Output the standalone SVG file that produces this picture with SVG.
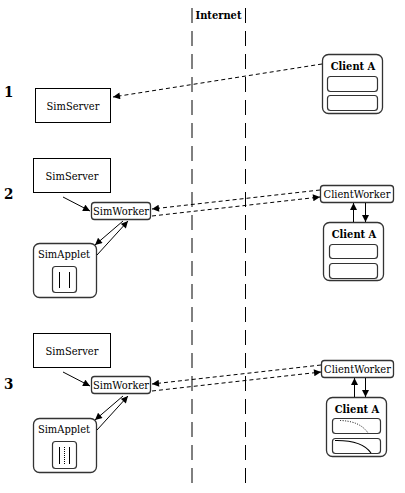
<svg xmlns="http://www.w3.org/2000/svg" width="405" height="493" viewBox="0 0 405 493">
<defs>
<marker id="ah" viewBox="0 0 10 10" refX="10" refY="5" markerWidth="8" markerHeight="7" markerUnits="userSpaceOnUse" orient="auto">
<path d="M0,0 L10,5 L0,10 z" fill="#000"/>
</marker>
</defs>
<style>
text{font-family:'DejaVu Serif Condensed','DejaVu Serif',serif;font-stretch:condensed;fill:#000}
.lbl{font-size:11px;text-anchor:middle}
.bold{font-weight:bold}
.num{font-size:15px;font-weight:bold}
.sq{fill:#fff;stroke:#000;stroke-width:1}
.rnd{fill:#fff;stroke:#333;stroke-width:1.3}
.inner{fill:#fff;stroke:#333;stroke-width:1.2}
.net{stroke:#000;stroke-width:1;stroke-dasharray:15 8;fill:none}
.c{stroke:#000;stroke-width:1;fill:none;marker-end:url(#ah)}
.d{stroke:#000;stroke-width:1;fill:none;stroke-dasharray:4 3;marker-end:url(#ah)}
</style>
<rect width="405" height="493" fill="#fff"/>

<g id="internet">
<line class="net" x1="192" y1="8" x2="192" y2="485"/>
<line class="net" x1="245.5" y1="8" x2="245.5" y2="485"/>
<text class="lbl bold" x="218.5" y="19">Internet</text>
</g>

<g id="labels">
<text class="num" x="4" y="97">1</text>
<text class="num" x="4" y="199">2</text>
<text class="num" x="4" y="389">3</text>
</g>

<g id="simserver1">
<rect class="sq" x="35.5" y="88.5" width="75" height="34"/>
<text class="lbl" x="73" y="110">SimServer</text>
</g>
<g id="clientA1">
<rect class="rnd" x="322.5" y="54.5" width="60" height="59" rx="6"/>
<text class="lbl bold" x="353" y="70">Client A</text>
<rect class="inner" x="327.5" y="76.5" width="50" height="15" rx="3"/>
<rect class="inner" x="327.5" y="95.5" width="50" height="15" rx="3"/>
</g>

<g id="simserver2">
<rect class="sq" x="33.5" y="158.5" width="77" height="34"/>
<text class="lbl" x="72" y="180">SimServer</text>
</g>
<g id="simworker2">
<rect class="rnd" x="91.5" y="202.5" width="59" height="17" rx="3"/>
<text class="lbl" x="121" y="215">SimWorker</text>
</g>
<g id="simapplet2">
<rect class="rnd" x="33.5" y="243.5" width="63" height="54" rx="6"/>
<text class="lbl" x="64" y="258">SimApplet</text>
<rect class="inner" x="52.5" y="266.5" width="24" height="26" rx="3"/>
<line x1="59.5" y1="272" x2="59.5" y2="288" stroke="#000"/>
<line x1="69.5" y1="272" x2="69.5" y2="288" stroke="#000"/>
</g>
<g id="clientworker2">
<rect class="rnd" x="320.5" y="185.5" width="73" height="17" rx="3"/>
<text class="lbl" x="357" y="198">ClientWorker</text>
</g>
<g id="clientA2">
<rect class="rnd" x="323.5" y="222.5" width="60" height="58" rx="6"/>
<text class="lbl bold" x="354" y="238">Client A</text>
<rect class="inner" x="329.5" y="244.5" width="48" height="14" rx="3"/>
<rect class="inner" x="329.5" y="263.5" width="48" height="15" rx="3"/>
</g>

<g id="simserver3">
<rect class="sq" x="33.5" y="333.5" width="77" height="34"/>
<text class="lbl" x="72" y="355">SimServer</text>
</g>
<g id="simworker3">
<rect class="rnd" x="91.5" y="376.5" width="59" height="17" rx="3"/>
<text class="lbl" x="121" y="389">SimWorker</text>
</g>
<g id="simapplet3">
<rect class="rnd" x="33.5" y="418.5" width="63" height="54" rx="6"/>
<text class="lbl" x="64" y="433">SimApplet</text>
<rect class="inner" x="52.5" y="441.5" width="24" height="27" rx="3"/>
<line x1="59.5" y1="447" x2="59.5" y2="464" stroke="#000"/>
<line x1="69.5" y1="447" x2="69.5" y2="464" stroke="#000"/>
<line x1="64.5" y1="447" x2="64.5" y2="464" stroke="#000" stroke-dasharray="1 1"/>
</g>
<g id="clientworker3">
<rect class="rnd" x="321.5" y="360.5" width="72" height="17" rx="3"/>
<text class="lbl" x="357.5" y="373">ClientWorker</text>
</g>
<g id="clientA3">
<rect class="rnd" x="326.5" y="397.5" width="60" height="59" rx="6"/>
<text class="lbl bold" x="357" y="413">Client A</text>
<rect class="inner" x="332.5" y="418.5" width="48" height="15" rx="3"/>
<rect class="inner" x="332.5" y="438.5" width="48" height="15" rx="3"/>
<path d="M340,420.5 Q360,421 368,433" fill="none" stroke="#000" stroke-width="1" stroke-dasharray="1 1.5"/>
<path d="M335,440.5 Q362,440 371,453" fill="none" stroke="#000" stroke-width="1.2"/>
</g>

<g id="connectors">
<line class="d" x1="322" y1="64" x2="113" y2="97"/>
<line class="c" x1="63" y1="197" x2="90" y2="211"/>
<line class="c" x1="123" y1="221" x2="95" y2="245"/>
<line class="c" x1="97" y1="255" x2="128" y2="221"/>
<line class="d" x1="320" y1="190" x2="152" y2="209"/>
<line class="d" x1="152" y1="216" x2="320" y2="197"/>
<line class="c" x1="353.5" y1="222" x2="353.5" y2="203"/>
<line class="c" x1="365.5" y1="203" x2="365.5" y2="222"/>
<line class="c" x1="63" y1="372" x2="90" y2="386"/>
<line class="c" x1="123" y1="396" x2="95" y2="420"/>
<line class="c" x1="97" y1="430" x2="128" y2="396"/>
<line class="d" x1="321" y1="365" x2="152" y2="384"/>
<line class="d" x1="152" y1="391" x2="321" y2="372"/>
<line class="c" x1="354.5" y1="397" x2="354.5" y2="378"/>
<line class="c" x1="365.5" y1="378" x2="365.5" y2="397"/>
</g>
</svg>
